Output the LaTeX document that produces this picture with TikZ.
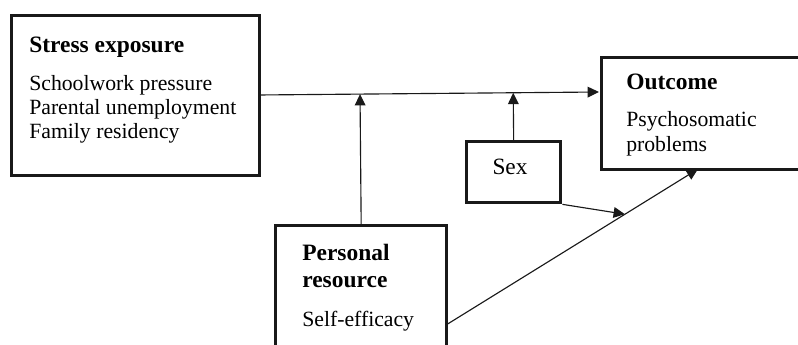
\documentclass[tikz,border=0pt]{standalone}
\usepackage{fontspec}
\setmainfont{Liberation Serif}
\usetikzlibrary{arrows.meta,calc}
\begin{document}
\begin{tikzpicture}[x=0.75pt,y=-0.75pt,
  box/.style={draw=black!90, line width=2.5pt, rectangle, inner sep=0pt, anchor=north west},
  txt/.style={anchor=base west, inner sep=0pt, font=\fontsize{16.3}{18}\selectfont},
  head/.style={anchor=base west, inner sep=0pt, font=\fontsize{17.6}{18}\selectfont\bfseries},
  arr/.style={draw=black!90, line width=0.85pt, -{Triangle[length=8.5pt,width=8pt]}},
  ln/.style={draw=black!90, line width=0.85pt}]
\useasboundingbox (0,0) rectangle (798,345);
\clip (0,0) rectangle (798,345);
% boxes
\node[box, minimum width=186pt, minimum height=120pt] (stress) at (10,14) {};
\node[box, minimum width=165pt, minimum height=84pt] (outcome) at (600,56) {};
\node[box, minimum width=70.5pt, minimum height=45.75pt] (sex) at (465,140) {};
\node[box, minimum width=128.25pt, minimum height=120pt] (personal) at (274,224) {};
% texts
\node[head] (t1) at (29,53) {Stress exposure};
\node[txt] (t2) at (29,91) {Schoolwork pressure};
\node[txt] (t3) at (29,115) {Parental unemployment};
\node[txt] (t4) at (29,139) {Family residency};
\node[head] (t5) at (626,90) {Outcome};
\node[txt] (t6) at (626,127) {Psychosomatic};
\node[txt] (t7) at (626,152) {problems};
\node[txt, anchor=base, font=\fontsize{17.5}{18}\selectfont] (t8) at (510,175) {Sex};
\node[head] (t9) at (302,260) {Personal};
\node[head] (t10) at (302,287) {resource};
\node[txt] (t11) at (302,326) {Self-efficacy};
% connector points
\coordinate (sout) at (258,95);
\coordinate (oin) at (599,92);
\coordinate (pe) at (446,325);
\coordinate (ob) at (698,169);
\coordinate (j1) at ($(sout)!(personal.north)!(oin)$);
\coordinate (j2) at ($(sout)!(sex.north)!(oin)$);
\coordinate (j3) at ($(pe)!0.71!(ob)$);
% connectors
\draw[arr] (sout) -- (oin);
\draw[arr] (personal.north) -- (j1);
\draw[arr] (sex.north) -- (j2);
\draw[arr] (pe) -- (ob);
\draw[arr] (sex.south east) -- (j3);
\end{tikzpicture}
\end{document}
